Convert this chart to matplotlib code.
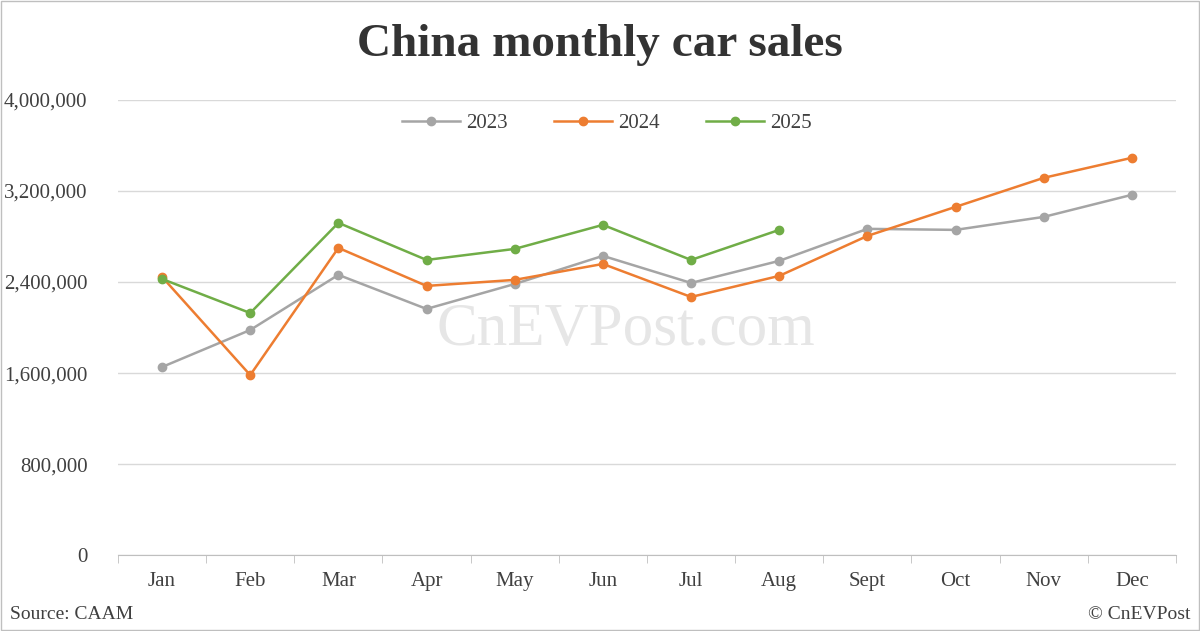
import matplotlib.pyplot as plt

months = ['Jan', 'Feb', 'Mar', 'Apr', 'May', 'Jun', 'Jul', 'Aug', 'Sept', 'Oct', 'Nov', 'Dec']
sales_2023 = [1653000, 1978000, 2462000, 2163000, 2382000, 2629000, 2391000, 2585000, 2866000, 2857000, 2971000, 3165000]
sales_2024 = [2444000, 1582000, 2699000, 2365000, 2418000, 2558000, 2268000, 2453000, 2804000, 3059000, 3314000, 3490000]
sales_2025 = [2426000, 2127000, 2919000, 2593000, 2690000, 2901000, 2593000, 2857000]

plt.rcParams['font.family'] = ['Liberation Serif', 'DejaVu Serif']

fig = plt.figure(figsize=(12, 6.31), dpi=100)
ax = fig.add_axes([0.0983, 0.12, 0.8817, 0.722])

x = range(len(months))
ax.plot(x, sales_2023, marker='o', ms=6, lw=1.8, color='#a5a5a5', label='2023')
ax.plot(x, sales_2024, marker='o', ms=6, lw=1.8, color='#ed7d31', label='2024')
ax.plot(range(len(sales_2025)), sales_2025, marker='o', ms=6, lw=1.8, color='#70ad47', label='2025')

ax.set_xlim(-0.5, 11.5)
ax.set_ylim(0, 4000000)
ax.set_yticks(range(0, 4000001, 800000))
ax.set_yticklabels([f'{v:,}' for v in range(0, 4000001, 800000)], fontsize=15, color='#404040')
ax.set_xticks(list(x))
ax.set_xticklabels(months, fontsize=15, color='#404040')
ax.grid(axis='y', color='#d9d9d9', lw=1)
for s in ['top', 'right', 'left']:
    ax.spines[s].set_visible(False)
ax.spines['bottom'].set_color('#bfbfbf')
ax.tick_params(axis='y', length=0, pad=22)
ax.tick_params(axis='x', length=0, pad=12)
ax.set_xticks([i + 0.5 for i in range(-1, 12)], minor=True)
ax.tick_params(axis='x', which='minor', length=6, color='#bfbfbf')

ax.legend(loc='center', bbox_to_anchor=(0.462, 0.948), ncol=3, frameon=False,
          fontsize=15, handlelength=2.8, columnspacing=2.2, handletextpad=0.3,
          labelcolor='#404040')

fig.text(0.5, 0.928, 'China monthly car sales', ha='center', va='center',
         fontsize=34, fontweight='bold', color='#333333')
ax.text(0.48, 0.495, 'CnEVPost.com', transform=ax.transAxes, ha='center', va='center',
        fontsize=44, color='#e6e6e6', zorder=0)
fig.text(0.008, 0.026, 'Source: CAAM', fontsize=14, color='#404040', va='center')
fig.text(0.992, 0.026, '© CnEVPost', fontsize=14, color='#404040', va='center', ha='right')
fig.patches.append(plt.Rectangle((0.001, 0.001), 0.998, 0.998, transform=fig.transFigure,
                                 fill=False, edgecolor='#bfbfbf', lw=1))

fig.savefig('out.png', dpi=100)
